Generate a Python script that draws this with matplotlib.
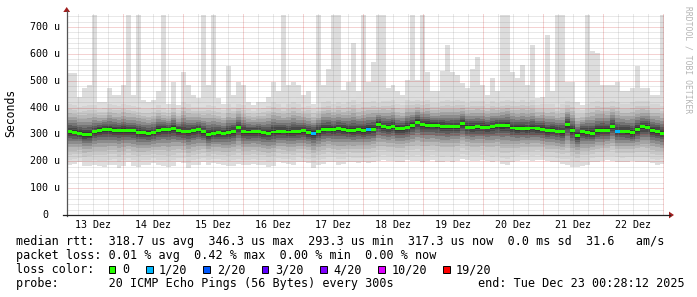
import numpy as np
import matplotlib
matplotlib.use('Agg')
import matplotlib.pyplot as plt
import matplotlib.transforms as mtransforms
from matplotlib.lines import Line2D
from matplotlib.patches import Polygon, Rectangle

# 120 consolidated steps between 13 Dez ~01:20 and 23 Dez 00:28 (values in microseconds)
median = [310, 308, 304, 299, 300, 310, 316, 319, 318, 315,
          314, 316, 313, 314, 308, 306, 304, 307, 316, 319,
          318, 323, 314, 312, 310, 313, 318, 310, 299, 304,
          306, 305, 307, 312, 325, 312, 309, 311, 310, 306,
          305, 309, 311, 312, 309, 312, 311, 313, 307, 305,
          312, 318, 320, 318, 321, 319, 315, 314, 317, 315,
          319, 320, 338, 329, 327, 330, 323, 321, 326, 334,
          345, 336, 334, 335, 334, 331, 328, 330, 329, 340,
          327, 326, 328, 327, 326, 329, 333, 332, 333, 324,
          322, 323, 321, 324, 322, 320, 313, 316, 312, 310,
          336, 314, 296, 311, 308, 305, 314, 316, 315, 330,
          312, 312, 311, 306, 318, 328, 326, 314, 311, 305]

ping_max = [527, 527, 440, 472, 485, 745, 420, 420, 472, 447,
            447, 485, 745, 447, 745, 430, 422, 430, 460, 745,
            415, 496, 410, 533, 485, 447, 435, 745, 485, 745,
            435, 415, 556, 447, 496, 485, 420, 410, 420, 422,
            440, 496, 460, 745, 485, 496, 485, 447, 460, 415,
            745, 485, 545, 745, 745, 465, 496, 640, 460, 745,
            496, 571, 745, 745, 472, 485, 460, 447, 503, 745,
            503, 745, 533, 460, 460, 536, 632, 533, 520, 490,
            472, 545, 588, 485, 447, 509, 460, 745, 745, 533,
            509, 557, 485, 632, 435, 440, 670, 460, 745, 745,
            496, 496, 422, 410, 745, 612, 605, 485, 485, 485,
            496, 460, 460, 472, 556, 472, 472, 447, 447, 745]

ping_upper = [430, 428, 420, 425, 430, 425, 410, 412, 430, 425,
              422, 430, 425, 420, 418, 412, 410, 415, 425, 412,
              405, 430, 405, 440, 430, 420, 415, 420, 430, 425,
              415, 405, 430, 420, 430, 425, 410, 402, 410, 415,
              425, 440, 430, 420, 430, 440, 430, 420, 425, 410,
              420, 440, 445, 430, 440, 430, 440, 450, 430, 440,
              440, 445, 430, 440, 440, 445, 430, 425, 445, 440,
              445, 440, 445, 430, 430, 440, 445, 440, 445, 440,
              435, 440, 440, 440, 430, 440, 430, 440, 445, 440,
              440, 445, 440, 445, 425, 428, 430, 430, 420, 430,
              440, 440, 410, 405, 430, 440, 445, 440, 440, 440,
              440, 430, 430, 440, 445, 440, 440, 430, 430, 425]

ping_min = [188, 190, 196, 182, 184, 186, 182, 180, 186, 188,
            176, 184, 196, 184, 180, 186, 188, 194, 186, 184,
            180, 182, 196, 194, 174, 186, 188, 196, 186, 192,
            190, 186, 184, 184, 190, 186, 188, 190, 186, 186,
            180, 182, 196, 192, 190, 188, 198, 196, 192, 174,
            186, 190, 198, 196, 188, 190, 198, 196, 194, 196,
            192, 198, 200, 204, 202, 200, 198, 198, 204, 200,
            202, 198, 200, 204, 198, 196, 200, 198, 202, 208,
            206, 200, 202, 204, 202, 198, 200, 190, 188, 198,
            200, 204, 204, 202, 206, 204, 200, 198, 196, 190,
            186, 180, 178, 184, 186, 196, 198, 200, 204, 202,
            198, 196, 198, 200, 198, 196, 196, 192, 188, 190]

# lost pings (of 20) per step
loss = [0] * 120
loss[49] = 1
loss[60] = 1
loss[110] = 1

day_labels = ['13 Dez', '14 Dez', '15 Dez', '16 Dez', '17 Dez',
              '18 Dez', '19 Dez', '20 Dez', '21 Dez', '22 Dez']
y_ticks = [0, 100, 200, 300, 400, 500, 600, 700]
y_labels = ['0', '100 u', '200 u', '300 u', '400 u', '500 u', '600 u', '700 u']

loss_keys = ['0', '1/20', '2/20', '3/20', '4/20', '10/20', '19/20']
loss_colors = ['#26ff00', '#00b8ff', '#0059ff', '#5e00ff', '#7e00ff', '#dd00ff', '#ff0000']
loss_color_of = {0: '#26ff00', 1: '#00b8ff', 2: '#0059ff', 3: '#5e00ff',
                 4: '#7e00ff', 10: '#dd00ff', 19: '#ff0000'}

W, H = 697, 297
MONO = 'DejaVu Sans Mono'


def fx(x):
    return x / W


def fy(y):
    return 1 - y / H


def stepped(a):
    return np.append(a, a[-1])


fig = plt.figure(figsize=(W / 100, H / 100), dpi=100)
ax = fig.add_axes([fx(66.7), fy(215), (664.5 - 66.7) / W, (215 - 14.1) / H])
t0, t1 = 0.0567, 10.0196
ax.set_xlim(t0, t1)
ax.set_ylim(0, 748)
for s in ax.spines.values():
    s.set_visible(False)
ax.set_xticks([])
ax.set_yticks([])

med = np.array(median, float)
lo = np.array(ping_min, float)
top = np.array(ping_max, float)
up = np.minimum(np.array(ping_upper, float), top)
edges = np.linspace(t0, t1, len(med) + 1)

# smoke
ax.fill_between(edges, stepped(up), stepped(top), step='post', color='#dddddd', lw=0, zorder=1)
fracs = [1.0, 0.85, 0.70, 0.58, 0.47, 0.37, 0.28, 0.20, 0.13, 0.07]
shades = ['#dedede', '#d4d4d4', '#c8c8c8', '#b8b8b8', '#a4a4a4',
          '#8c8c8c', '#737373', '#5c5c5c', '#474747', '#363636']
for f, c in zip(fracs, shades):
    ax.fill_between(edges, stepped(med - (med - lo) * f), stepped(med + (up - med) * f),
                    step='post', color=c, lw=0, zorder=2)

# grid
grid_kw = dict(alpha=0.4, lw=0.72, ls=(0, (1, 1)), zorder=3)
for v in range(20, 748, 20):
    ax.axhline(v, color='#c81e1e' if v % 100 == 0 else '#8c8c8c', **grid_kw)
for q in range(1, 41):
    ax.axvline(q / 4, color='#c81e1e' if q % 4 == 0 else '#8c8c8c', **grid_kw)

# median
ax.fill_between(edges, stepped(med - 5.5), stepped(med + 5.5), step='post',
                color=loss_color_of[0], lw=0, zorder=4)
for i, l in enumerate(loss):
    if l:
        ax.fill_between(edges[i:i + 2], med[i] - 5.5, med[i] + 5.5,
                        color=loss_color_of[l], lw=0, zorder=5)

# axes lines and arrows
fig.add_artist(Line2D([fx(66.7), fx(66.7)], [fy(216), fy(11)], transform=fig.transFigure,
                      color='#555555', lw=0.9))
fig.add_artist(Line2D([fx(62.5), fx(670)], [fy(215), fy(215)], transform=fig.transFigure,
                      color='#222222', lw=0.9))
fig.add_artist(Polygon([(fx(63.3), fy(12)), (fx(70.1), fy(12)), (fx(66.7), fy(7))],
                       closed=True, transform=fig.transFigure, color='#a01e1e', lw=0))
fig.add_artist(Polygon([(fx(669), fy(211.6)), (fx(669), fy(218.4)), (fx(674), fy(215))],
                       closed=True, transform=fig.transFigure, color='#a01e1e', lw=0))

# tick labels
ytr = mtransforms.blended_transform_factory(fig.transFigure, ax.transData)
for v, s in zip(y_ticks, y_labels):
    xr = 48 if v == 0 else 59.8
    fig.text(fx(xr), v, s, transform=ytr, ha='right', va='center',
             family=MONO, size=7.2, color='#000000')
xtr = mtransforms.blended_transform_factory(ax.transData, fig.transFigure)
for i, s in enumerate(day_labels):
    fig.text(i + 0.5, fy(225), s, transform=xtr, ha='center', va='center',
             family=MONO, size=7.2, color='#000000')

fig.text(fx(11), fy(113), 'Seconds', rotation=90, ha='center', va='center',
         family=MONO, size=8.3)
fig.text(fx(688), fy(60), 'RRDTOOL / TOBI OETIKER', rotation=270, ha='center', va='center',
         family=MONO, size=5.8, color='#b4b4b4')

# legend
x0 = 15.5
fig.text(fx(x0), fy(245), 'median rtt:  318.7 us avg  346.3 us max  293.3 us min  '
         '317.3 us now  0.0 ms sd  31.6   am/s', va='baseline', family=MONO, size=8.5)
fig.text(fx(x0), fy(259), 'packet loss: 0.01 % avg  0.42 % max  0.00 % min  0.00 % now',
         va='baseline', family=MONO, size=8.5)
fig.text(fx(x0), fy(273.3), 'loss color:', va='baseline', family=MONO, size=8.5)
sq_x = [108.7, 146, 203, 261.5, 320, 378, 443]
txt_x = [121.8, 159, 217, 275, 333.3, 392, 456]
for sx, tx, key, col in zip(sq_x, txt_x, loss_keys, loss_colors):
    fig.add_artist(Rectangle((fx(sx), fy(273.3)), 6.6 / W, 7.4 / H, transform=fig.transFigure,
                             facecolor=col, edgecolor='#000000', lw=0.7))
    fig.text(fx(tx), fy(273.3), key, va='baseline', family=MONO, size=8.5)
fig.text(fx(x0), fy(287.3), 'probe:       20 ICMP Echo Pings (56 Bytes) every 300s',
         va='baseline', family=MONO, size=8.5)
fig.text(fx(477.5), fy(287.3), 'end: Tue Dec 23 00:28:12 2025',
         va='baseline', family=MONO, size=8.5)

fig.savefig('out.png', dpi=100, facecolor='white')
